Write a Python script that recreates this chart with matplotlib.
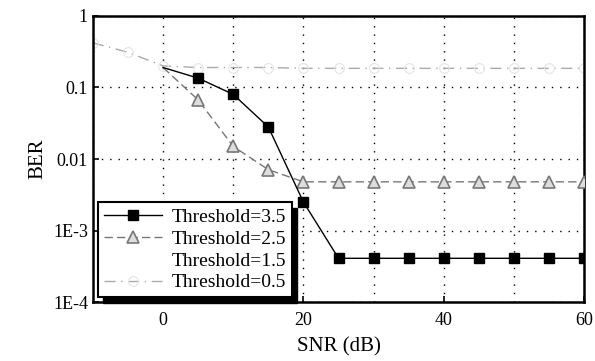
import matplotlib
matplotlib.use('Agg')
import matplotlib.pyplot as plt
from matplotlib.patches import Rectangle
from matplotlib.transforms import offset_copy

plt.rcParams['font.family'] = ['Liberation Serif', 'DejaVu Serif']

# data
snr_35 = [0, 5, 10, 15, 20, 25, 30, 35, 40, 45, 50, 55, 60]
ber_35 = [0.19, 0.135, 0.08, 0.028, 0.0025, 4.1e-4, 4.1e-4, 4.1e-4, 4.1e-4, 4.1e-4, 4.1e-4, 4.1e-4, 4.1e-4]

snr_25 = [0, 5, 10, 15, 20, 25, 30, 35, 40, 45, 50, 55, 60]
ber_25 = [0.19, 0.067, 0.015, 0.0071, 0.0048, 0.0048, 0.0048, 0.0048, 0.0048, 0.0048, 0.0048, 0.0048, 0.0048]

snr_15 = []
ber_15 = []

snr_05 = [-10, -5, 0, 5, 10, 15, 20, 25, 30, 35, 40, 45, 50, 55, 60]
ber_05 = [0.42, 0.31, 0.2, 0.19, 0.19, 0.19, 0.185, 0.185, 0.185, 0.185, 0.185, 0.185, 0.185, 0.185, 0.185]

xticks = [0, 20, 40, 60]
yticks = [1e-4, 1e-3, 1e-2, 1e-1, 1]
ytick_labels = ['1E-4', '1E-3', '0.01', '0.1', '1']

fig = plt.figure(figsize=(5.95, 3.61), dpi=100)
ax = fig.add_axes([0.156, 0.163, 0.826, 0.793])

ax.plot(snr_35, ber_35, color='black', lw=1, marker='s', ms=7, markevery=slice(1, None),
        mfc='black', mec='black', label='Threshold=3.5', zorder=4)
ax.plot(snr_25, ber_25, color='#777777', lw=1, ls=(0, (6, 3)), marker='^', ms=8,
        markevery=slice(1, None), mfc='#dddddd', mec='#777777', mew=1.2,
        label='Threshold=2.5', zorder=3)
ax.plot(snr_15, ber_15, color='none', label='Threshold=1.5')
ax.plot(snr_05, ber_05, color='#aaaaaa', lw=1, ls=(0, (8, 4, 1, 4)), marker='o', ms=7,
        mfc='none', mec='#e4e4e4', mew=0.8, label='Threshold=0.5', zorder=2)

ax.set_yscale('log')
ax.set_xlim(-10, 60)
ax.set_ylim(1e-4, 1)
ax.set_xticks(xticks)
ax.set_xticks([-10, 10, 30, 50], minor=True)
ax.set_yticks(yticks)
ax.set_yticklabels(ytick_labels)
ax.yaxis.set_minor_locator(matplotlib.ticker.NullLocator())
ax.tick_params(which='both', direction='in', labelsize=13, length=4, width=1.2)
ax.tick_params(axis='x', pad=7)
ax.tick_params(which='minor', length=0)
ax.grid(True, which='both', color='black', ls=(0, (1, 5)), lw=1)

for s in ax.spines.values():
    s.set_linewidth(1.8)

ax.set_xlabel('SNR (dB)', fontsize=15, labelpad=6)
ax.set_ylabel('BER', fontsize=15)

leg = ax.legend(loc='lower left', bbox_to_anchor=(0.0, 0.0), fontsize=14,
                fancybox=False, framealpha=1, edgecolor='black',
                handlelength=3, labelspacing=0.22, borderpad=0.3,
                handletextpad=0.5, borderaxespad=0.25)
leg.get_frame().set_linewidth(1.5)
leg.set_zorder(10)

# thick black drop shadow on the right and bottom of the legend
fig.canvas.draw()
bb = leg.get_window_extent().transformed(fig.transFigure.inverted())
shadow = Rectangle((bb.x0, bb.y0), bb.width, bb.height,
                   facecolor='black', edgecolor='black', zorder=9, clip_on=False)
ax.add_artist(shadow)
shadow.set_transform(offset_copy(fig.transFigure, fig=fig, x=4, y=-4, units='points'))

fig.savefig('out.png', dpi=100)
